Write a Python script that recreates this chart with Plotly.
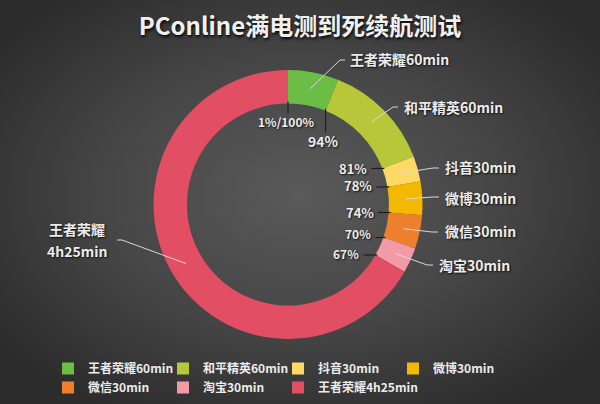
import math, base64
import plotly.graph_objects as go

# ---- data ----
labels = ["王者荣耀60min", "和平精英60min", "抖音30min", "微博30min", "微信30min", "淘宝30min", "王者荣耀4h25min"]
battery_drop = [6, 13, 3, 4, 4, 3, 66]          # % of battery used in each test
colors = ["#6cbd45", "#b8c63a", "#ffd966", "#f5b800", "#ee7f2d", "#f29aa6", "#e24e64"]
outer_text = ["王者荣耀60min", "和平精英60min", "抖音30min", "微博30min", "微信30min", "淘宝30min", None]

W, H = 600, 404
MR = 60                      # right margin (only to make the legend wrap after 4 items)
PW = W - MR                  # plot-area width
CX, CY, R_OUT, R_IN = 288, 204.5, 134.5, 101
R_MID = 118

def px(x):
    return x / PW

def py(y):
    return 1 - y / H

total = sum(battery_drop)

fig = go.Figure()
fig.add_trace(go.Pie(
    labels=labels, values=battery_drop, sort=False, direction="clockwise", rotation=0,
    hole=R_IN / R_OUT, textinfo="none", hoverinfo="label+value",
    marker=dict(colors=colors, line=dict(width=0)),
    domain=dict(x=[px(CX - R_OUT), px(CX + R_OUT)], y=[py(CY + R_OUT), py(CY - R_OUT)]),
))

shapes = []
annotations = []
FONT = "Noto Sans CJK SC, Noto Sans, sans-serif"
SHADOW = "1px 1px 2px rgba(0,0,0,0.8)"

# ---- outer labels with leader lines ----
# (elbow x, elbow y, end x, text x, text y)
leader_layout = [
    (340, 60, 345, 348, 59),
    (393, 107, 398, 402, 107),
    (433, 168, 439, 443, 167),
    (433, 197, 439, 443, 198),
    (432, 232, 438, 443, 231),
    (427, 265, 433, 437, 265),
    (122, 240, 117, None, None),
]
cum = 0
for i, v in enumerate(battery_drop):
    mid = (cum + v / 2) / total * 2 * math.pi
    cum += v
    sx = CX + R_MID * math.sin(mid)
    sy = CY - R_MID * math.cos(mid)
    ex, ey, endx, tx, ty = leader_layout[i]
    shapes.append(dict(type="path", xref="paper", yref="paper",
                       path=f"M{px(sx)},{py(sy)} L{px(ex)},{py(ey)} L{px(endx)},{py(ey)}",
                       line=dict(color="#d8d8d8", width=1)))
    if outer_text[i]:
        annotations.append(dict(x=px(tx), y=py(ty), xref="paper", yref="paper", text=outer_text[i],
                                showarrow=False, xanchor="left", yanchor="middle",
                                font=dict(family=FONT, size=14, color="#ececec", weight="bold", shadow=SHADOW)))
# the big slice label (two lines)
annotations.append(dict(x=px(77), y=py(229), xref="paper", yref="paper", text="王者荣耀", showarrow=False,
                        xanchor="center", yanchor="middle",
                        font=dict(family=FONT, size=14, color="#ececec", weight="bold", shadow=SHADOW)))
annotations.append(dict(x=px(77), y=py(251), xref="paper", yref="paper", text="4h25min", showarrow=False,
                        xanchor="center", yanchor="middle",
                        font=dict(family=FONT, size=14, color="#ececec", weight="bold", shadow=SHADOW)))

# ---- boundary ticks with remaining battery % ----
# (direction, tick length, font size, label y-shift)
tick_style = [("down", 10, 12, 4), ("down", 22, 14, 5), ("left", 11, 13, 0), ("left", 11, 13, 1),
              ("left", 11, 13, 0), ("left", 8, 12, 4), ("left", 12, 12, 1)]
cum = 0
for i in range(len(battery_drop)):
    ang = cum / total * 2 * math.pi
    remaining = 100 - cum
    bx = CX + R_IN * math.sin(ang)
    by = CY - R_IN * math.cos(ang)
    d, L, fs, ys = tick_style[i]
    txt = f"{remaining}%" if i else f"{100 - total}%/{remaining}%"
    font = dict(family=FONT, size=fs, color="#ececec", weight="bold", shadow=SHADOW)
    if d == "down":
        shapes.append(dict(type="line", xref="paper", yref="paper", x0=px(bx), y0=py(by - 2),
                           x1=px(bx), y1=py(by + L), line=dict(color="#1e1e1e", width=1.2)))
        annotations.append(dict(x=px(bx - 2), y=py(by + L + 1 - ys), xref="paper", yref="paper", text=txt,
                                showarrow=False, xanchor="center", yanchor="top", font=font))
    else:
        shapes.append(dict(type="line", xref="paper", yref="paper", x0=px(bx + 2), y0=py(by),
                           x1=px(bx - L), y1=py(by), line=dict(color="#1e1e1e", width=1.2)))
        annotations.append(dict(x=px(bx - L - 2), y=py(by - ys), xref="paper", yref="paper", text=txt,
                                showarrow=False, xanchor="right", yanchor="middle", font=font))
    cum += battery_drop[i]

# ---- radial gradient background ----
svg = (f'<svg xmlns="http://www.w3.org/2000/svg" width="{W}" height="{H}">'
       '<defs><radialGradient id="g" cx="50%" cy="48%" r="62%">'
       '<stop offset="0%" stop-color="#5a5a5a"/><stop offset="55%" stop-color="#454545"/>'
       '<stop offset="100%" stop-color="#2c2c2c"/></radialGradient></defs>'
       f'<rect width="{W}" height="{H}" fill="url(#g)"/></svg>')
bg = "data:image/svg+xml;base64," + base64.b64encode(svg.encode()).decode()

fig.update_layout(
    width=W, height=H, margin=dict(l=0, r=MR, t=0, b=0, autoexpand=False),
    paper_bgcolor="#3e3e3e", plot_bgcolor="rgba(0,0,0,0)",
    images=[dict(source=bg, xref="paper", yref="paper", x=0, y=1, sizex=W / PW, sizey=1,
                 sizing="stretch", layer="below", xanchor="left", yanchor="top")],
    title=dict(text="PConline满电测到死续航测试", x=0.5, xanchor="center", y=py(27), yanchor="middle",
               font=dict(family=FONT, size=24, color="#f0f0f0", weight="bold", shadow="1px 2px 3px rgba(0,0,0,0.9)")),
    shapes=shapes, annotations=annotations,
    showlegend=True,
    legend=dict(orientation="h", x=px(48), xanchor="left", y=py(354), yanchor="top",
                entrywidth=70, entrywidthmode="pixels", traceorder="normal",
                font=dict(family=FONT, size=12, color="#ececec", weight="bold"),
                bgcolor="rgba(0,0,0,0)", itemwidth=30),
)

fig.write_html("out.html", config={"displayModeBar": False},
               post_script="document.body.style.margin='0';document.body.style.overflow='hidden';")
